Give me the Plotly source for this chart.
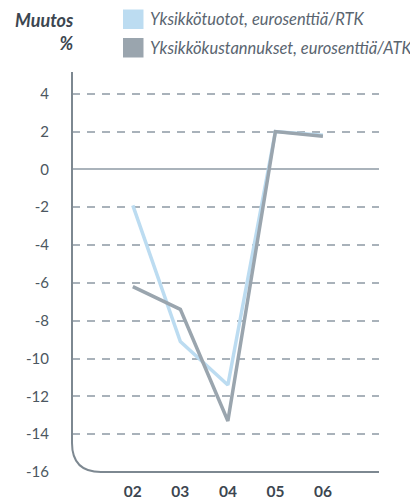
import plotly.graph_objects as go

years = [2, 3, 4, 5, 6]
year_labels = ["02", "03", "04", "05", "06"]
revenue = [-1.9, -9.1, -11.4, 2.0, 1.8]      # Yksikkötuotot
cost = [-6.2, -7.4, -13.3, 2.0, 1.75]        # Yksikkökustannukset
series_names = ["Yksikkötuotot, eurosenttiä/RTK", "Yksikkökustannukset, eurosenttiä/ATK"]
series_colors = ["#bcdcf1", "#9aa5ae"]
y_ticks = [4, 2, 0, -2, -4, -6, -8, -10, -12, -14, -16]

FONT = "Lato"
OFF = 8  # default page body margin
W, H = 418 - OFF, 501 - OFF
ml, mr, mt, mb = 72 - OFF, 39, 72 - OFF, 29
pw, ph = W - ml - mr, H - mt - mb


def px(x):
    return (x - OFF - ml) / pw


def py(y):
    return 1 - (y - OFF - mt) / ph


fig = go.Figure()
for vals, name, col in zip([revenue, cost], series_names, series_colors):
    fig.add_trace(go.Scatter(x=years, y=vals, mode="lines", name=name,
                             line=dict(color=col, width=3.5), showlegend=False))

fig.update_layout(
    width=W, height=H, margin=dict(l=ml, r=mr, t=mt, b=mb, autoexpand=False),
    plot_bgcolor="white", paper_bgcolor="white",
    font=dict(family=FONT, color="#4c5761"),
    xaxis=dict(range=[0.72, 7.18], tickvals=years, ticktext=year_labels,
               showgrid=False, zeroline=False, showline=False, ticks="",
               automargin=False,
               tickfont=dict(family=FONT, size=15.5, color="#3c4650", weight="bold"),
               ticklabelstandoff=8, fixedrange=True),
    yaxis=dict(range=[-16, 5.15], tickvals=y_ticks,
               ticktext=[str(v) for v in y_ticks],
               showgrid=True, gridcolor="#a9b2ba", gridwidth=2, griddash="8px,7px",
               zeroline=True, zerolinecolor="#aab3bb", zerolinewidth=2,
               showline=False, ticks="", automargin=False,
               tickfont=dict(family=FONT, size=15, color="#4c5761"),
               ticklabelstandoff=22, fixedrange=True),
)

# axis with rounded corner
rx, ry = 29 / pw, 29 / ph
fig.add_shape(type="path", xref="paper", yref="paper",
              path=f"M 0,1 L 0,{ry} Q 0,0 {rx},0 L 1,0",
              line=dict(color="#7d8891", width=2))

# title
fig.add_annotation(xref="paper", yref="paper", x=px(76), y=py(7),
                   xanchor="right", yanchor="top", align="right", showarrow=False,
                   text="<b><i>Muutos<br>%</i></b>",
                   font=dict(family=FONT, size=18, color="#3c4650"))

# custom legend
for i, (name, col) in enumerate(zip(series_names, series_colors)):
    top = 9.5 + i * 28.5
    fig.add_shape(type="rect", xref="paper", yref="paper",
                  x0=px(123), x1=px(143.5), y0=py(top), y1=py(top + 19.5),
                  fillcolor=col, line=dict(width=0))
    fig.add_annotation(xref="paper", yref="paper", x=px(148),
                       y=py(top + 10), xanchor="left", yanchor="middle",
                       showarrow=False, text=f"<i>{name}</i>",
                       font=dict(family=FONT, size=16.5, color="#5a6570"))

fig.write_html("out.html")
